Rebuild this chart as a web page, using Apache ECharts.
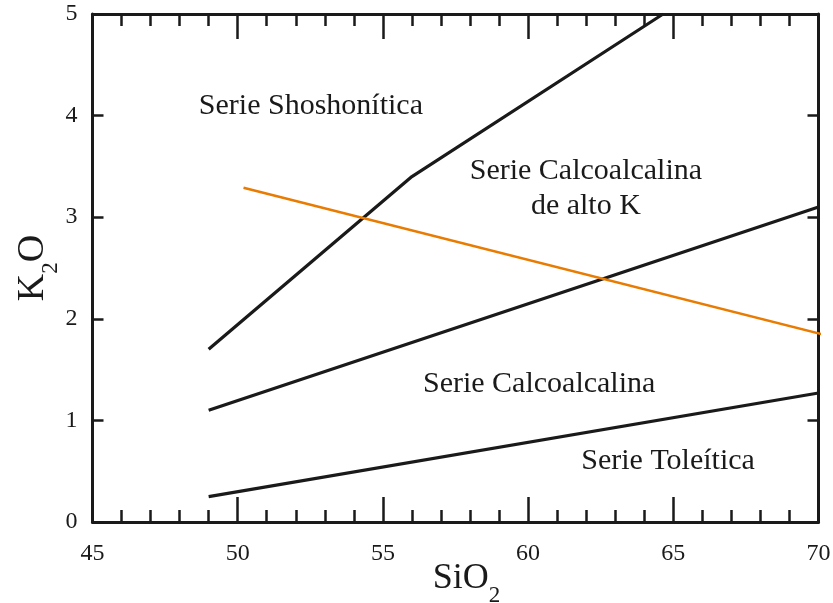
<!DOCTYPE html>
<html>
<head>
<meta charset="utf-8">
<script src="https://cdn.jsdelivr.net/npm/echarts@6/dist/echarts.min.js"></script>
<style>
html,body{margin:0;padding:0;background:#fff;}
#chart{width:833px;height:603px;}
</style>
</head>
<body>
<div id="chart"></div>
<script>
// ---- data ----
const xTicks = [45, 50, 55, 60, 65, 70];
const yTicks = [0, 1, 2, 3, 4, 5];
const shoshoniticBoundary = [[49, 1.7], [56, 3.4], [64.65, 5]];
const highKBoundary = [[49, 1.1], [70, 3.1]];
const tholeiiticBoundary = [[49, 0.25], [70, 1.27]];
const orangeLine = [[50.2, 3.29], [70.5, 1.82]];
const regionNames = ['Serie Shoshonítica', 'Serie Calcoalcalina\nde alto K', 'Serie Calcoalcalina', 'Serie Toleítica'];
const regionX = [52.52, 61.99, 60.38, 64.82];
const regionY = [4.09, 3.28, 1.36, 0.60];

const FONT = 'Liberation Serif, Times New Roman, serif';
const INK = '#1a1a1a';

const chart = echarts.init(document.getElementById('chart'), null, {renderer: 'canvas'});

const axisLine = {show: true, onZero: false, lineStyle: {color: INK, width: 3}};
function xAxisDef(pos, showLabels) {
  return {
    type: 'value', position: pos, min: 45, max: 70, interval: 5,
    axisLine: axisLine,
    axisTick: {show: true, inside: true, length: 25, lineStyle: {color: INK, width: 2.5}},
    minorTick: {show: true, splitNumber: 5, length: 12, lineStyle: {color: INK, width: 2.5}},
    splitLine: {show: false}, minorSplitLine: {show: false},
    axisLabel: {show: showLabels, fontFamily: FONT, fontSize: 24, color: INK, margin: 20,
      formatter: v => xTicks.includes(v) ? String(v) : ''},
    name: showLabels ? '{a|SiO}{b|2}' : '',
    nameLocation: 'middle', nameGap: 39, nameMoveOverlap: false,
    nameTextStyle: {rich: {
      a: {fontFamily: FONT, fontSize: 36, color: INK, verticalAlign: 'bottom', padding: [0, 0, 10, 22]},
      b: {fontFamily: FONT, fontSize: 23, color: INK, verticalAlign: 'bottom'}
    }}
  };
}
function yAxisDef(pos, showLabels) {
  return {
    type: 'value', position: pos, min: 0, max: 5, interval: 1,
    axisLine: axisLine,
    axisTick: {show: true, inside: true, length: 11, lineStyle: {color: INK, width: 2.5}},
    splitLine: {show: false},
    axisLabel: {show: showLabels, fontFamily: FONT, fontSize: 24, color: INK, margin: 15,
      formatter: v => yTicks.includes(v) ? String(v) : ''},
    name: showLabels ? '{a|K}{b|2}{c|O}' : '',
    nameLocation: 'middle', nameGap: 30, nameRotate: 90, nameMoveOverlap: false,
    nameTextStyle: {rich: {
      a: {fontFamily: FONT, fontSize: 38, color: INK, verticalAlign: 'bottom', padding: [0, 0, 10, 0]},
      c: {fontFamily: FONT, fontSize: 38, color: INK, verticalAlign: 'bottom', padding: [0, 0, 10, 0]},
      b: {fontFamily: FONT, fontSize: 23, color: INK, verticalAlign: 'bottom'}
    }}
  };
}

const lineBase = {type: 'line', showSymbol: false, symbol: 'none', silent: true, xAxisIndex: 0, yAxisIndex: 0};

chart.setOption({
  animation: false,
  backgroundColor: '#ffffff',
  grid: {left: 92.5, right: 14.5, top: 14, bottom: 81, containLabel: false, outerBoundsMode: 'none'},
  xAxis: [xAxisDef('bottom', true), xAxisDef('top', false)],
  yAxis: [yAxisDef('left', true), yAxisDef('right', false)],
  series: [
    Object.assign({}, lineBase, {data: shoshoniticBoundary, lineStyle: {color: INK, width: 3.2}}),
    Object.assign({}, lineBase, {data: highKBoundary, lineStyle: {color: INK, width: 3.2}}),
    Object.assign({}, lineBase, {data: tholeiiticBoundary, lineStyle: {color: INK, width: 3.2}}),
    Object.assign({}, lineBase, {data: orangeLine, clip: false, lineStyle: {color: '#E87B00', width: 2.5}}),
    {
      type: 'scatter', silent: true, symbolSize: 1, itemStyle: {color: 'rgba(0,0,0,0)', opacity: 1},
      data: regionNames.map((n, i) => ({value: [regionX[i], regionY[i]], name: n})),
      label: {show: true, position: 'inside', formatter: p => p.name, opacity: 1,
        fontFamily: FONT, fontSize: 30, color: INK, lineHeight: 35, align: 'center', verticalAlign: 'middle'}
    }
  ]
});
</script>
</body>
</html>
